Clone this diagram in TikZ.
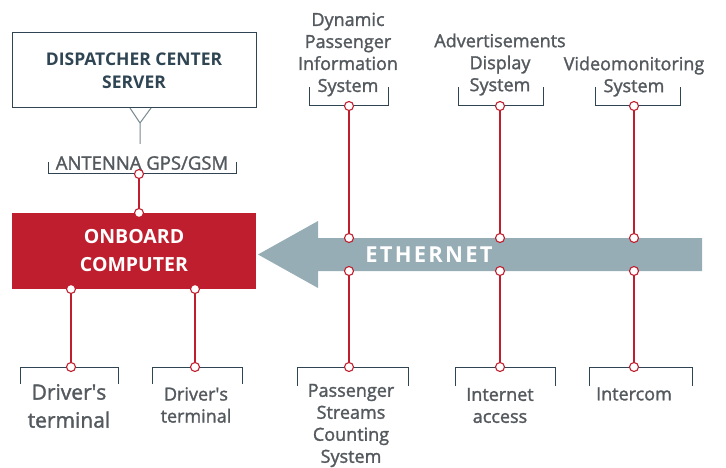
\documentclass[tikz,border=0pt]{standalone}
\usepackage{fontspec}
\setmainfont{Open Sans}
\newfontfamily\semibold{Open Sans}[FakeBold=1.6]
\definecolor{boxred}{HTML}{BE1E2D}
\definecolor{arrowgray}{HTML}{97ADB5}
\definecolor{labelgray}{HTML}{54595E}
\definecolor{brackdark}{HTML}{2F4553}
\definecolor{antgray}{HTML}{7A8A91}
\tikzset{
  sysname/.style={text=labelgray, align=center, inner sep=0pt, font=\semibold\fontsize{18}{22}\selectfont},
  bracket/.style={draw=brackdark, line width=1pt},
  redline/.style={draw=boxred, line width=1.1pt},
  dot/.style={circle, draw=boxred, fill=white, line width=1.1pt, minimum size=9pt, inner sep=0pt},
}
\begin{document}
\begin{tikzpicture}[x=1pt,y=-1pt]
        \useasboundingbox (0,0) rectangle (726,468);

        % Draw the dispatcher server and the antenna
        \node[draw=brackdark, line width=1pt, minimum width=244pt, minimum height=75pt, text=brackdark,
              align=center, font=\bfseries\fontsize{17.5}{23}\selectfont] (server) at (134,70.5)
              {DISPATCHER CENTER\\SERVER};
        \coordinate (antY) at (140,123);
        \coordinate (antL) at (130,108);
        \coordinate (antR) at (151,108);
        \coordinate (antB) at (140,144);
        \draw[draw=antgray, line width=1pt] (antL) -- (antY) -- (antR) (antY) -- (antB);
        \node[sysname, font=\semibold\fontsize{18.5}{22}\selectfont] (antenna) at (142,163) {ANTENNA GPS/GSM};
        \draw[bracket] (48,162) -- (48,174) -- (236,174) -- (236,162);

        % Draw the onboard computer
        \node[fill=boxred, minimum width=244pt, minimum height=76pt, text=white, align=center,
              font=\bfseries\fontsize{19.5}{28}\selectfont] (computer) at (134,251) {ONBOARD\\COMPUTER};

        % Draw the ethernet arrow
        \fill[arrowgray] (702,238) -- (318,238) -- (318,221) -- (258,254.5) -- (318,288) -- (318,271) -- (702,271) -- cycle;
        \node[text=white, font=\bfseries\fontsize{22}{22}\selectfont\addfontfeature{LetterSpace=10}] (ethernet) at (429,254.5) {ETHERNET};

        % Draw the systems above the arrow
        \node[sysname] (dpis) at (348,54.5) {Dynamic\\Passenger\\Information\\System};
        \node[sysname] (ads) at (500,64.5) {Advertisements\\Display\\System};
        \node[sysname] (video) at (634,76.5) {Videomonitoring\\System};
        \draw[bracket] (309,87) -- (309,106) -- (388,106) -- (388,87);
        \draw[bracket] (458,87) -- (458,106) -- (543,106) -- (543,87);
        \draw[bracket] (595,87) -- (595,106) -- (680,106) -- (680,87);

        % Draw the systems below
        \node[sysname, font=\semibold\fontsize{21}{28}\selectfont] (drv1) at (69,406) {Driver\textquotesingle s\\terminal};
        \node[sysname] (drv2) at (196,405) {Driver\textquotesingle s\\terminal};
        \node[sysname] (psc) at (351,425.5) {Passenger\\Streams\\Counting\\System};
        \node[sysname] (inet) at (500,405.5) {Internet\\access};
        \node[sysname] (icom) at (634,394) {Intercom};
        \draw[bracket] (20,384) -- (20,367) -- (118,367) -- (118,384);
        \draw[bracket] (152,384) -- (152,367) -- (242,367) -- (242,384);
        \draw[bracket] (297,386) -- (297,367) -- (408,367) -- (408,386);
        \draw[bracket] (455,386) -- (455,367) -- (555,367) -- (555,386);
        \draw[bracket] (589,386) -- (589,367) -- (692,367) -- (692,386);

        % Connection points
        \coordinate (pAnt) at (139,174);
        \coordinate (pTop) at (139,213);
        \coordinate (pBot1) at (71,289);
        \coordinate (pBot2) at (195,289);
        \coordinate (pDrv1) at (71,367);
        \coordinate (pDrv2) at (195,367);
        \coordinate (pDpis) at (349,106);
        \coordinate (pAds) at (500,106);
        \coordinate (pVideo) at (634,106);
        \coordinate (eT1) at (349,238);
        \coordinate (eT2) at (500,238);
        \coordinate (eT3) at (634,238);
        \coordinate (eB1) at (349,271);
        \coordinate (eB2) at (500,271);
        \coordinate (eB3) at (634,271);
        \coordinate (pPsc) at (349,367);
        \coordinate (pInet) at (500,367);
        \coordinate (pIcom) at (634,367);

        % Draw the red links
        \draw[redline] (pAnt) -- (pTop);
        \draw[redline] (pBot1) -- (pDrv1);
        \draw[redline] (pBot2) -- (pDrv2);
        \draw[redline] (pDpis) -- (eT1);
        \draw[redline] (pAds) -- (eT2);
        \draw[redline] (pVideo) -- (eT3);
        \draw[redline] (eB1) -- (pPsc);
        \draw[redline] (eB2) -- (pInet);
        \draw[redline] (eB3) -- (pIcom);
        \foreach \p in {pAnt,pTop,pBot1,pBot2,pDrv1,pDrv2,pDpis,pAds,pVideo,eT1,eT2,eT3,eB1,eB2,eB3,pPsc,pInet,pIcom}
            \node[dot] at (\p) {};
\end{tikzpicture}
\end{document}
